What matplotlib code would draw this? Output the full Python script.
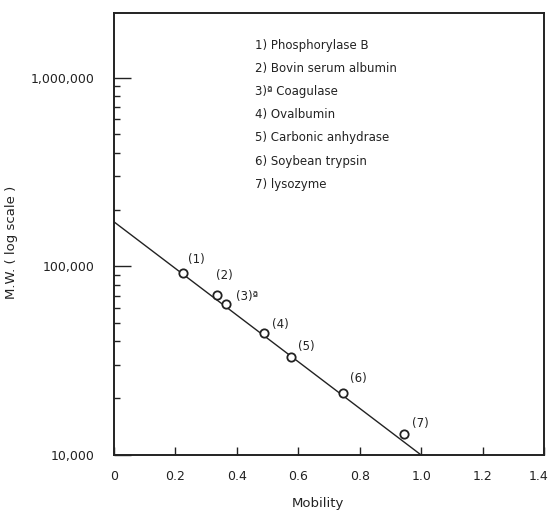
import matplotlib
matplotlib.use("Agg")
import matplotlib.pyplot as plt
import matplotlib.transforms as mtransforms
from matplotlib.ticker import FixedLocator, NullFormatter

# Protein standards: relative mobility vs molecular weight
labels = ["(1)", "(2)", "(3)\u00aa", "(4)", "(5)", "(6)", "(7)"]
mobility = [0.226, 0.336, 0.365, 0.489, 0.575, 0.747, 0.944]
mol_weight = [92200, 70300, 63500, 44300, 32900, 21400, 12900]

# Calibration line end points
fit_mobility = [0.0, 1.0]
fit_mw = [172000, 10000]

proteins = [
    "1) Phosphorylase B",
    "2) Bovin serum albumin",
    "3)\u00aa Coagulase",
    "4) Ovalbumin",
    "5) Carbonic anhydrase",
    "6) Soybean trypsin",
    "7) lysozyme",
]

x_ticks = [0, 0.2, 0.4, 0.6, 0.8, 1.0, 1.2, 1.4]
x_ticklabels = ["0", "0.2", "0.4", "0.6", "0.8", "1.0", "1.2", "1.4"]
y_ticks = [10000, 100000, 1000000]
y_ticklabels = ["10,000", "100,000", "1,000,000"]
y_minor = [k * 10 ** e for e in (4, 5) for k in range(2, 10)]

ink = "#222222"
plt.rcParams["font.family"] = ["DejaVu Sans"]

W, H = 552, 517
fig = plt.figure(figsize=(W / 100, H / 100), dpi=100)
ax = fig.add_axes([114 / W, 1 - 455 / H, 430 / W, 442 / H])

ax.set_yscale("log")
ax.set_xlim(0, 1.4)
ax.set_ylim(1e4, 2.2e6)

ax.plot(fit_mobility, fit_mw, color=ink, lw=1.0, zorder=2)
ax.plot(mobility, mol_weight, "o", ms=6, mfc="white", mec=ink, mew=1.3, zorder=3)

offsets = [(13, 13), (7, 20), (21, 7), (16, 9), (16, 11), (15, 14), (16, 11)]
for lab, m, w, (dx, dy) in zip(labels, mobility, mol_weight, offsets):
    ax.annotate(lab, (m, w), xytext=(dx * 0.72, dy * 0.72), textcoords="offset points",
                ha="center", va="center", fontsize=8.5, color=ink)

# protein list, positioned in figure pixels from the top-left corner
for i, name in enumerate(proteins):
    fig.text(255 / W, 1 - (45 + i * 23.2) / H, name, fontsize=8.5, color=ink,
             ha="left", va="center")

ax.xaxis.set_major_locator(FixedLocator(x_ticks))
ax.set_xticklabels(x_ticklabels)
ax.yaxis.set_major_locator(FixedLocator(y_ticks))
ax.set_yticklabels(y_ticklabels)
ax.yaxis.set_minor_locator(FixedLocator(y_minor))
ax.yaxis.set_minor_formatter(NullFormatter())

ax.tick_params(axis="x", direction="in", length=6, width=1.0, pad=11,
               labelsize=9, colors=ink)
ax.tick_params(axis="y", which="major", direction="in", length=12, width=1.0,
               pad=14, labelsize=9, colors=ink)
ax.tick_params(axis="y", which="minor", direction="in", length=4.5, width=1.0,
               colors=ink)

# keep the last x label inside the figure
last = ax.get_xticklabels()[-1]
last.set_transform(last.get_transform() +
                   mtransforms.ScaledTranslation(-5 / 100, 0, fig.dpi_scale_trans))

for s in ax.spines.values():
    s.set_linewidth(1.4)
    s.set_color(ink)

fig.text(12 / W, 1 - 242 / H, "M.W. ( log scale )", rotation=90,
         ha="center", va="center", fontsize=9.5, color=ink)
fig.text(318 / W, 1 - 503 / H, "Mobility", ha="center", va="center",
         fontsize=9.5, color=ink)

fig.savefig("out.png", dpi=100)
